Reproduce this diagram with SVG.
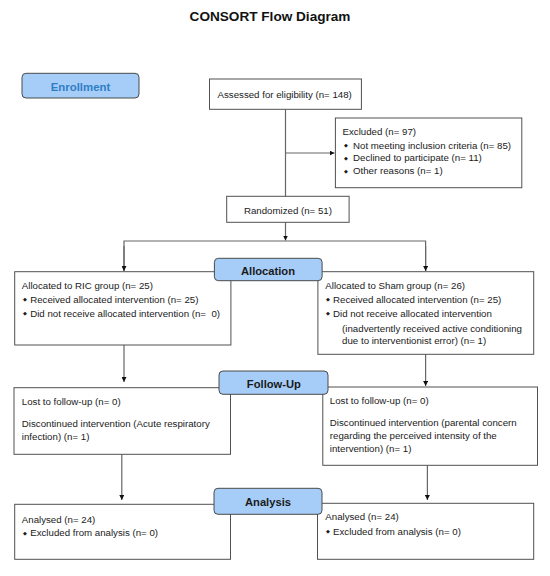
<svg xmlns="http://www.w3.org/2000/svg" width="550" height="576" viewBox="0 0 550 576">
<defs>
<style>
.box{fill:#fff;stroke:#505050;stroke-width:1}
.lbl{fill:#a6cdf8;stroke:#4a4a4a;stroke-width:1}
.t{font-family:"Liberation Sans",Arial,sans-serif;font-size:9.7px;fill:#1a1a1a}
.b{font-family:"DejaVu Sans",sans-serif;font-size:5px;fill:#1a1a1a}
.lt{font-family:"Liberation Sans",Arial,sans-serif;font-size:11.2px;font-weight:bold;fill:#1a1a1a;text-anchor:middle}
.conn{fill:none;stroke:#666;stroke-width:1.2}
</style>
<marker id="ah" viewBox="0 0 10 10" refX="10" refY="5" markerWidth="5" markerHeight="5" orient="auto" markerUnits="userSpaceOnUse">
<path d="M0,0 L10,5 L0,10 Z" fill="#111"/>
</marker>
</defs>
<rect width="550" height="576" fill="#fff"/>
<text x="270" y="21" font-family="Liberation Sans,Arial,sans-serif" font-size="13.6" font-weight="bold" text-anchor="middle" fill="#111">CONSORT Flow Diagram</text>

<g id="connectors">
<path class="conn" d="M285.5,109.3 V196.3"/>
<path class="conn" d="M285.5,153 H334.5" marker-end="url(#ah)"/>
<path class="conn" d="M285.5,222.3 V240.5" marker-end="url(#ah)"/>
<path class="conn" d="M124,271 V241 H425.6 V271"/>
<path class="conn" d="M124,246 V271" marker-end="url(#ah)"/>
<path class="conn" d="M425.6,246 V271" marker-end="url(#ah)"/>
<path class="conn" d="M124,345 V382" marker-end="url(#ah)"/>
<path class="conn" d="M425.6,354.3 V386" marker-end="url(#ah)"/>
<path class="conn" d="M121.8,454.3 V500" marker-end="url(#ah)"/>
<path class="conn" d="M427.4,465.3 V500" marker-end="url(#ah)"/>
</g>

<g id="enrollment">
<rect class="lbl" x="22" y="73.3" width="117" height="24.7" rx="4"/>
<text x="80.5" y="90.5" font-family="Liberation Sans,Arial,sans-serif" font-size="11.4" font-weight="bold" text-anchor="middle" fill="#2f7ec4">Enrollment</text>
</g>

<g id="assessed">
<rect class="box" x="209.5" y="79" width="151.9" height="30.3"/>
<text class="t" x="217.5" y="97.5">Assessed for eligibility (n= 148)</text>
</g>

<g id="excluded">
<rect class="box" x="335.4" y="118" width="186.4" height="69.7"/>
<text class="t" x="342.5" y="135">Excluded (n= 97)</text>
<text class="b" x="344" y="147">◆</text><text class="t" x="353" y="148.5">Not meeting inclusion criteria (n= 85)</text>
<text class="b" x="344" y="159.5">◆</text><text class="t" x="353" y="161">Declined to participate (n= 11)</text>
<text class="b" x="344" y="172.5">◆</text><text class="t" x="353" y="174">Other reasons (n= 1)</text>
</g>

<g id="randomized">
<rect class="box" x="226.7" y="196.3" width="122.4" height="26"/>
<text class="t" x="243.9" y="213.5">Randomized (n= 51)</text>
</g>

<g id="ric-alloc">
<rect class="box" x="14.7" y="271.7" width="216.2" height="73.3"/>
<text class="t" x="21.8" y="288.5">Allocated to RIC group (n= 25)</text>
<text class="b" x="23" y="301.3">◆</text><text class="t" x="30.2" y="302.8">Received allocated intervention (n= 25)</text>
<text class="b" x="23" y="315.3">◆</text><text class="t" x="30.2" y="316.8" xml:space="preserve">Did not receive allocated intervention (n=  0)</text>
</g>

<g id="sham-alloc">
<rect class="box" x="317.9" y="271.7" width="215.8" height="82.6"/>
<text class="t" x="325.3" y="288.5">Allocated to Sham group (n= 26)</text>
<text class="b" x="326" y="301.3">◆</text><text class="t" x="333" y="302.8">Received allocated intervention (n= 25)</text>
<text class="b" x="326" y="315.3">◆</text><text class="t" x="333" y="316.8">Did not receive allocated intervention</text>
<text class="t" x="342.1" y="331.5">(inadvertently received active conditioning</text>
<text class="t" x="342.1" y="343.5">due to interventionist error) (n= 1)</text>
</g>

<g id="allocation-label">
<rect class="lbl" x="214.4" y="258.3" width="107.7" height="22.4" rx="4"/>
<text class="lt" x="268" y="275">Allocation</text>
</g>

<g id="ric-follow">
<rect class="box" x="14" y="387.7" width="216.5" height="66.6"/>
<text class="t" x="21.8" y="405">Lost to follow-up (n= 0)</text>
<text class="t" x="21.8" y="427">Discontinued intervention (Acute respiratory</text>
<text class="t" x="21.8" y="440.3">infection) (n= 1)</text>
</g>

<g id="sham-follow">
<rect class="box" x="322.8" y="387" width="214.7" height="78.3"/>
<text class="t" x="329.8" y="404.2">Lost to follow-up (n= 0)</text>
<text class="t" x="329.8" y="426.2">Discontinued intervention (parental concern</text>
<text class="t" x="329.8" y="439.2">regarding the perceived intensity of the</text>
<text class="t" x="329.8" y="452.2">intervention) (n= 1)</text>
</g>

<g id="followup-label">
<rect class="lbl" x="219" y="371" width="109" height="23.3" rx="4"/>
<text class="lt" x="273.9" y="388">Follow-Up</text>
</g>

<g id="ric-analysis">
<rect class="box" x="14.7" y="504.3" width="215.8" height="55"/>
<text class="t" x="21.8" y="522.5">Analysed (n= 24)</text>
<text class="b" x="23" y="534.5">◆</text><text class="t" x="30.2" y="536">Excluded from analysis (n= 0)</text>
</g>

<g id="sham-analysis">
<rect class="box" x="317.5" y="503.3" width="216.2" height="56"/>
<text class="t" x="325.3" y="520.2">Analysed (n= 24)</text>
<text class="b" x="326" y="533">◆</text><text class="t" x="333" y="534.5">Excluded from analysis (n= 0)</text>
</g>

<g id="analysis-label">
<rect class="lbl" x="214" y="488.3" width="108" height="26" rx="4"/>
<text class="lt" x="268" y="505.5">Analysis</text>
</g>
</svg>
